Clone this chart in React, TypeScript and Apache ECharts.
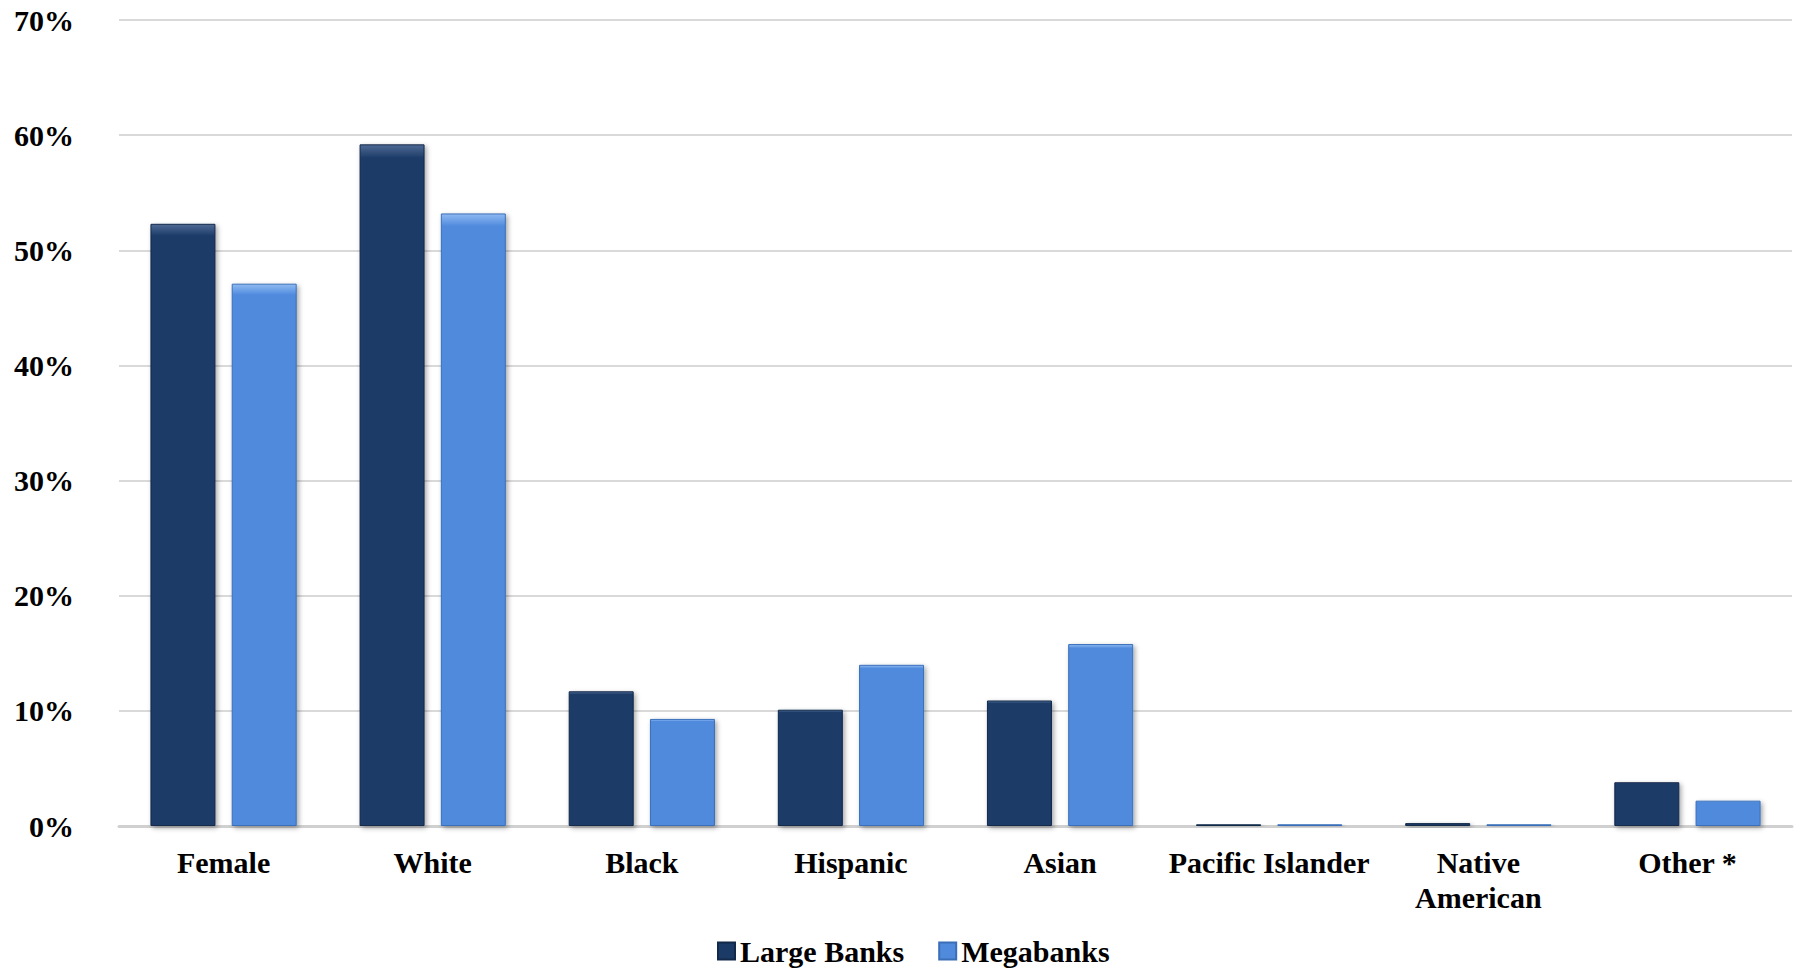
import React, { useEffect, useRef } from "react";
import * as echarts from "echarts";

const categories = [
  "Female",
  "White",
  "Black",
  "Hispanic",
  "Asian",
  "Pacific Islander",
  "Native\nAmerican",
  "Other *",
];
const largeBanks = [52.3, 59.2, 11.7, 10.1, 10.9, 0.15, 0.25, 3.8];
const megabanks = [47.1, 53.2, 9.3, 14.0, 15.8, 0.15, 0.15, 2.2];
const seriesNames = ["Large Banks", "Megabanks"];

const FONT = "'Liberation Serif', 'Times New Roman', Times, serif";

function barStyle(base: string, light: string, border: string) {
  return {
    color: {
      type: "linear",
      x: 0,
      y: 0,
      x2: 0,
      y2: 1,
      colorStops: [
        { offset: 0, color: light },
        { offset: 0.02, color: base },
        { offset: 1, color: base },
      ],
    },
    borderColor: border,
    borderWidth: 1,
    shadowBlur: 5,
    shadowColor: "rgba(0,0,0,0.35)",
    shadowOffsetX: 2,
    shadowOffsetY: 2,
  };
}

export default function App() {
  const ref = useRef<HTMLDivElement>(null);
  useEffect(() => {
    document.body.style.margin = "0";
    if (!ref.current) return;
    const chart = echarts.init(ref.current, undefined, { renderer: "svg" });
    chart.setOption({
      animation: false,
      backgroundColor: "#ffffff",
      grid: { left: 119, right: 13, top: 20, bottom: 144 },
      legend: {
        data: seriesNames,
        left: 717,
        top: 935,
        padding: 0,
        icon: "rect",
        itemWidth: 17,
        itemHeight: 17,
        itemGap: 34,
        textStyle: {
          fontFamily: FONT,
          fontWeight: "bold",
          fontSize: 30,
          lineHeight: 32,
          color: "#000",
        },
      },
      xAxis: {
        type: "category",
        data: categories,
        axisLine: { show: true, lineStyle: { color: "#d0d0d0", width: 3 } },
        axisTick: { show: false },
        axisLabel: {
          interval: 0,
          margin: 19,
          fontFamily: FONT,
          fontWeight: "bold",
          fontSize: 30,
          lineHeight: 35,
          color: "#000",
        },
      },
      yAxis: {
        type: "value",
        min: 0,
        max: 70,
        interval: 10,
        axisLine: { show: false },
        axisTick: { show: false },
        splitLine: { lineStyle: { color: "#d9d9d9", width: 2 } },
        axisLabel: {
          formatter: "{value}%",
          margin: 45,
          fontFamily: FONT,
          fontWeight: "bold",
          fontSize: 30,
          color: "#000",
        },
      },
      series: [
        {
          name: seriesNames[0],
          type: "bar",
          data: largeBanks,
          barWidth: 65,
          barGap: "25%",
          itemStyle: barStyle("#1b3a66", "#4d6a94", "#12294a"),
        },
        {
          name: seriesNames[1],
          type: "bar",
          data: megabanks,
          barWidth: 65,
          barGap: "25%",
          itemStyle: barStyle("#508add", "#8fbaf2", "#3a6fb8"),
        },
      ],
    });
    return () => chart.dispose();
  }, []);
  return <div ref={ref} style={{ width: 1805, height: 970 }} />;
}
